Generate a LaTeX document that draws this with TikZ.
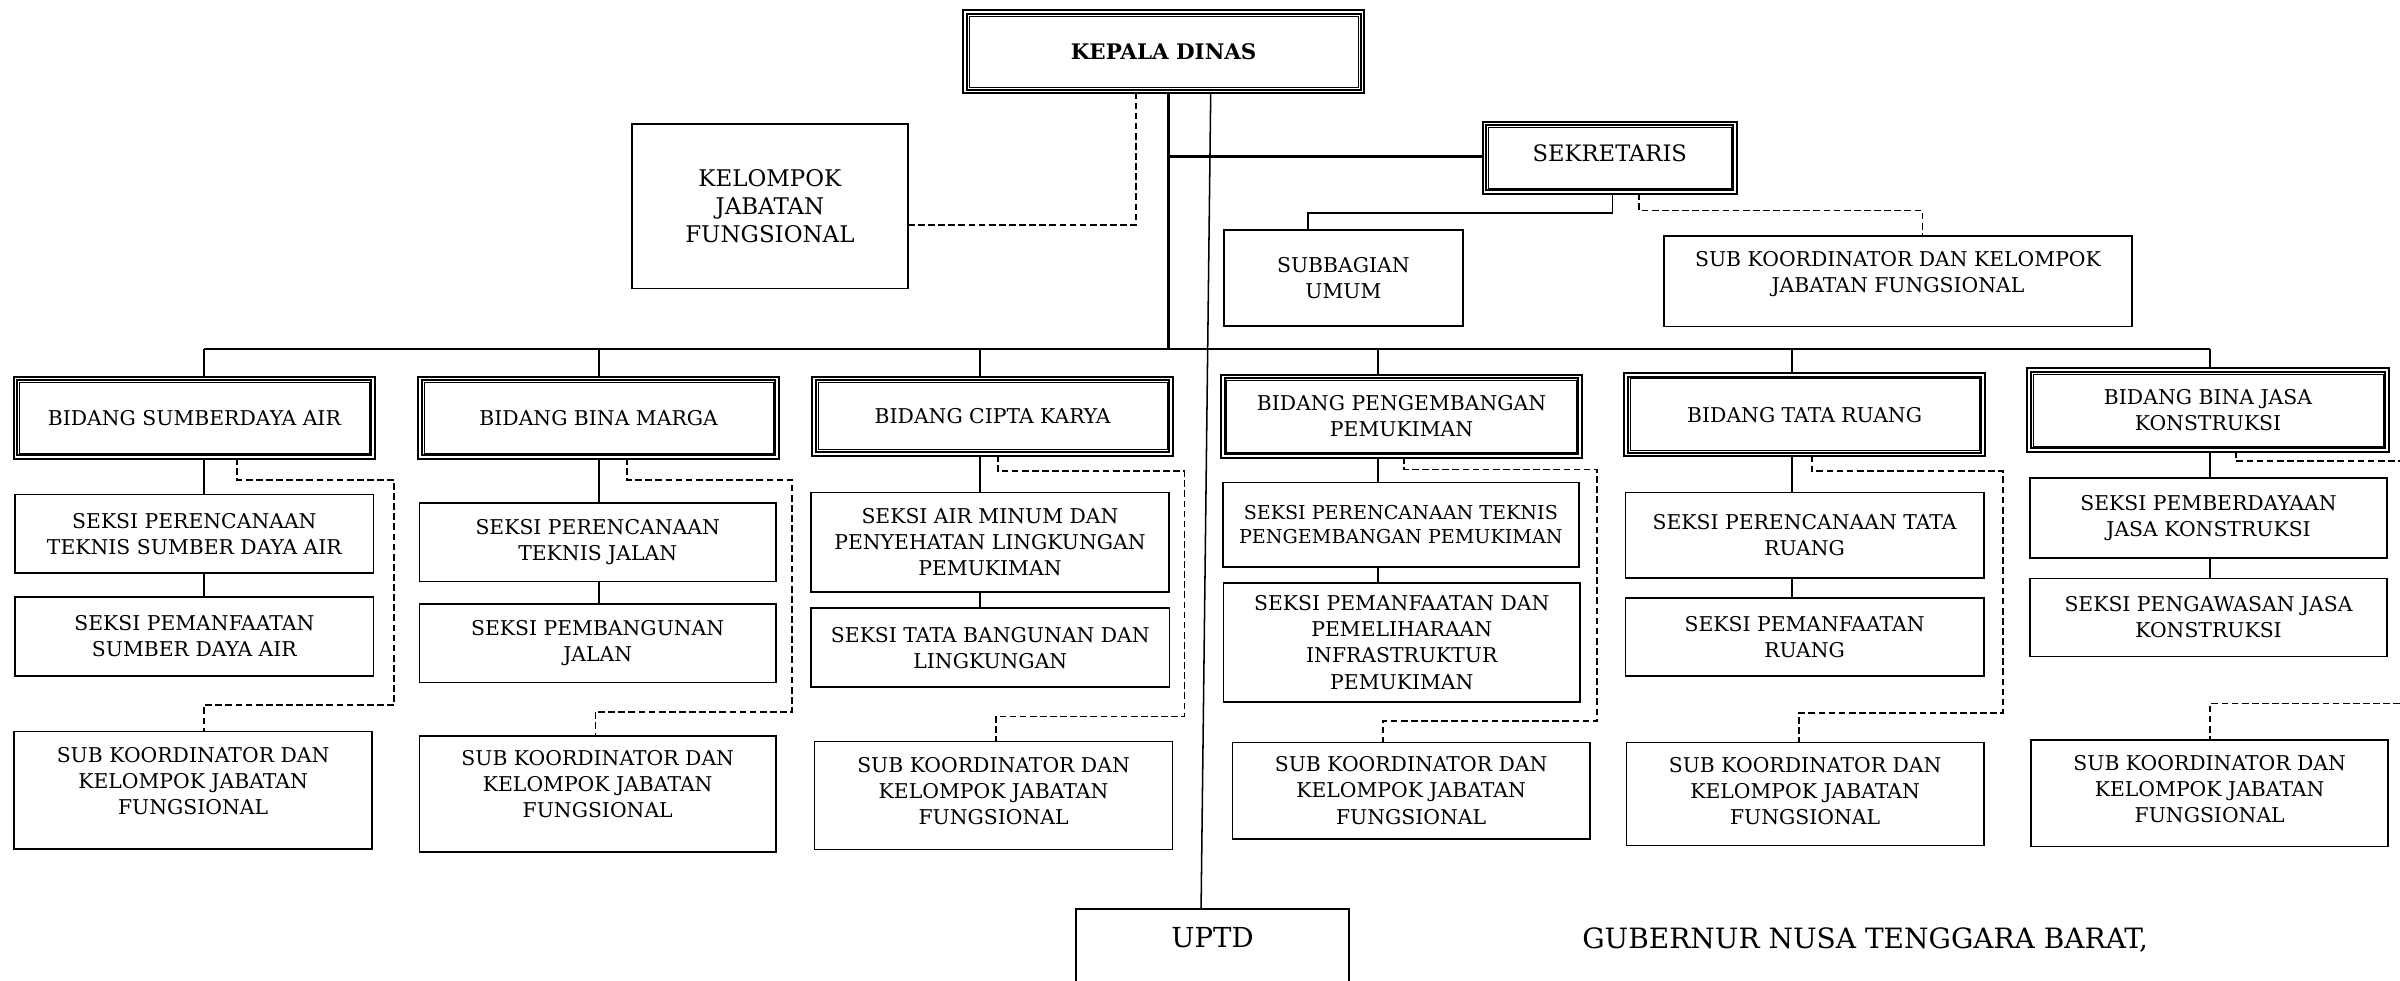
\documentclass[tikz,border=0pt]{standalone}
\usepackage{fontspec}
\setmainfont{DejaVu Serif}
\newcommand\fbase{\fontsize{13.3}{17}\selectfont}
\newcommand\fsm{\fontsize{12.5}{16}\selectfont}
\newcommand\fkd{\fontsize{14}{16}\selectfont\bfseries}
\newcommand\fkel{\fontsize{15}{18}\selectfont}
\newcommand\fsek{\fontsize{14.8}{17}\selectfont}
\newcommand\fup{\fontsize{18}{20}\selectfont}
\newcommand\fgub{\fontsize{18.3}{20}\selectfont}
\tikzset{
  bx/.style={draw, line width=1.1pt, align=center, inner sep=0pt, font=\fbase},
  dbx/.style={draw, double, double distance=1.1pt, line width=1.3pt, align=center, inner sep=0pt, font=\fbase},
  inl/.style={line width=0.5pt},
  ln/.style={line width=1.1pt},
  thk/.style={line width=1.8pt},
  thn/.style={line width=1pt},
  dsh/.style={line width=1.1pt, dash pattern=on 4.4pt off 2.2pt},
}
% #1 extra style, #2 name, #3 x1, #4 x2, #5 y1, #6 y2, #7 text
\newcommand\mkbox[7][]{\node[bx,#1, minimum width={(#4)-(#3)}, minimum height={(#6)-(#5)}] (#2) at ({((#3)+(#4))/2},{((#5)+(#6))/2}) {#7};}
\newcommand\mkdbox[7][]{%
  \node[dbx,#1, minimum width={(#4)-(#3)-3.7}, minimum height={(#6)-(#5)-3.7}] (#2) at ({((#3)+(#4))/2},{((#5)+(#6))/2}) {#7};
  \draw[inl] ({(#3)+4.5},{(#5)+4.5}) rectangle ({(#4)-4.5},{(#6)-4.5});}
% #1 idx, #2 ax, #3 ay, #4 cx, #5 cy, #6 ex
\newcommand\mkcol[6]{%
  \draw[ln] (k#1) -- (b#1.north -| k#1);
  \draw[ln] (b#1.south -| k#1) -- (s#1a.north -| k#1);
  \draw[ln] (s#1a.south -| k#1) -- (s#1b.north -| k#1);
  \coordinate (a#1) at (#2,#3);
  \coordinate (c#1) at (#4,#5);
  \coordinate (e#1) at (#6,#5);
  \draw[dsh] (b#1.south -| a#1) -- (a#1) -| (c#1) -- (e#1) -- (sk#1.north -| e#1);
}
\begin{document}
\begin{tikzpicture}[x=1pt,y=-1pt]
\useasboundingbox (0,0) rectangle (1568,640.9);
\fill[white] (0,0) rectangle (1568,640.9);

% top level
\mkdbox[font=\fkd]{kd}{628.5}{892}{6.1}{61.6}{KEPALA DINAS}
\mkbox[font=\fkel]{kel}{413}{593}{81}{188.4}{KELOMPOK\\JABATAN\\FUNGSIONAL}
\mkdbox[font=\fsek, text depth=6pt]{sek}{968}{1135.5}{78.8}{127.4}{SEKRETARIS}
\mkbox{sbu}{799.5}{955.8}{150.3}{213}{SUBBAGIAN\\UMUM}
\mkbox[text depth=12pt]{skt}{1087}{1393}{154.2}{213.4}{SUB KOORDINATOR DAN KELOMPOK\\JABATAN FUNGSIONAL}

% column 1
\mkdbox{b1}{8.3}{245.7}{245.5}{300.5}{BIDANG SUMBERDAYA AIR}
\mkbox{s1a}{10}{244}{323}{374.4}{SEKSI PERENCANAAN\\TEKNIS SUMBER DAYA AIR}
\mkbox{s1b}{10}{244}{390}{441.7}{SEKSI PEMANFAATAN\\SUMBER DAYA AIR}
\mkbox[text depth=12pt]{sk1}{9.3}{243}{478}{554.7}{SUB KOORDINATOR DAN\\KELOMPOK JABATAN\\FUNGSIONAL}
% column 2
\mkdbox{b2}{272.7}{509.5}{245.5}{300.5}{BIDANG BINA MARGA}
\mkbox{s2a}{274}{507}{328.8}{380}{SEKSI PERENCANAAN\\TEKNIS JALAN}
\mkbox{s2b}{274}{507}{394.7}{445.8}{SEKSI PEMBANGUNAN\\JALAN}
\mkbox[text depth=14pt]{sk2}{274}{507}{481}{556.8}{SUB KOORDINATOR DAN\\KELOMPOK JABATAN\\FUNGSIONAL}
% column 3
\mkdbox{b3}{530}{767}{245.5}{298.4}{BIDANG CIPTA KARYA}
\mkbox{s3a}{530}{763.6}{321.8}{386.6}{SEKSI AIR MINUM DAN\\PENYEHATAN LINGKUNGAN\\PEMUKIMAN}
\mkbox{s3b}{530}{764}{397.3}{448.9}{SEKSI TATA BANGUNAN DAN\\LINGKUNGAN}
\mkbox[text depth=6pt]{sk3}{532.2}{766}{484.5}{554.9}{SUB KOORDINATOR DAN\\KELOMPOK JABATAN\\FUNGSIONAL}
% column 4
\mkdbox{b4}{797}{1034.3}{244.2}{299.9}{BIDANG PENGEMBANGAN\\PEMUKIMAN}
\mkbox[font=\fsm]{s4a}{798.8}{1031.6}{315.2}{370.5}{SEKSI PERENCANAAN TEKNIS\\PENGEMBANGAN PEMUKIMAN}
\mkbox{s4b}{799.4}{1032.3}{381}{458.6}{SEKSI PEMANFAATAN DAN\\PEMELIHARAAN\\INFRASTRUKTUR\\PEMUKIMAN}
\mkbox{sk4}{805.2}{1038.6}{485}{548}{SUB KOORDINATOR DAN\\KELOMPOK JABATAN\\FUNGSIONAL}
% column 5
\mkdbox{b5}{1060.4}{1297.6}{243}{298.8}{BIDANG TATA RUANG}
\mkbox{s5a}{1062}{1296}{321.8}{377.6}{SEKSI PERENCANAAN TATA\\RUANG}
\mkbox{s5b}{1062}{1296}{390.7}{441.7}{SEKSI PEMANFAATAN\\RUANG}
\mkbox[text depth=4pt]{sk5}{1062.7}{1296}{485}{552.4}{SUB KOORDINATOR DAN\\KELOMPOK JABATAN\\FUNGSIONAL}
% column 6
\mkdbox{b6}{1323.7}{1561.4}{239.9}{296}{BIDANG BINA JASA\\KONSTRUKSI}
\mkbox{s6a}{1326.3}{1559.5}{312.3}{364.6}{SEKSI PEMBERDAYAAN\\JASA KONSTRUKSI}
\mkbox{s6b}{1326.3}{1559.5}{378}{428.9}{SEKSI PENGAWASAN JASA\\KONSTRUKSI}
\mkbox[text depth=6pt]{sk6}{1327}{1560.3}{483.3}{553}{SUB KOORDINATOR DAN\\KELOMPOK JABATAN\\FUNGSIONAL}

% UPTD and signature
\node[bx, font=\fup, anchor=north, minimum width=178.4, text height=13pt, text depth=60pt, inner ysep=12pt] (uptd) at (792.2,593.4) {UPTD};
\node[font=\fgub, anchor=west, inner sep=0pt] (gub) at (1033.6,614) {GUBERNUR NUSA TENGGARA BARAT,};

% connectors of the top level
\coordinate (dk) at (742,147);
\draw[dsh] (kd.south -| dk) -- (dk) -- (kel.east |- dk);
\coordinate (kv) at (763.5,228);
\coordinate (ks) at (763.5,102.4);
\draw[thk] (kd.south -| kv) -- (kv);
\draw[thk] (ks) -- (sek.west |- ks);
\coordinate (u1) at (791,0);
\coordinate (u2) at (784.7,0);
\draw[thn] (kd.south -| u1) -- (uptd.north -| u2);
\coordinate (t1) at (1053.5,139);
\coordinate (t2) at (854.6,139);
\draw[ln] (sek.south -| t1) -- (t1) -- (t2) -- (sbu.north -| t2);
\coordinate (t3) at (1070.8,137.6);
\coordinate (t4) at (1256,137.6);
\draw[dsh] (sek.south -| t3) -- (t3) -- (t4) -- (skt.north -| t4);

% bus
\coordinate (k1) at (133.5,228);
\coordinate (k2) at (391.5,228);
\coordinate (k3) at (640.3,228);
\coordinate (k4) at (900.3,228);
\coordinate (k5) at (1170.6,228);
\coordinate (k6) at (1443.9,228);
\draw[thk] (k1) -- (k6);

\mkcol{1}{155}{313.5}{257.5}{460.6}{133.5}
\mkcol{2}{409.5}{313.6}{517.5}{465}{389}
\mkcol{3}{651.8}{307.8}{773.8}{468}{650.7}
\mkcol{4}{917.3}{306.7}{1043.5}{471}{903.6}
\mkcol{5}{1183.7}{307.8}{1308.6}{465.8}{1175.4}

% column 6 (dashed line runs off the right edge)
\draw[ln] (k6) -- (b6.north -| k6);
\draw[ln] (b6.south -| k6) -- (s6a.north -| k6);
\draw[ln] (s6a.south -| k6) -- (s6b.north -| k6);
\coordinate (a6) at (1460.7,301);
\coordinate (c6) at (1568,301);
\draw[dsh] (b6.south -| a6) -- (a6) -- (c6);
\coordinate (f6) at (1568,459.7);
\coordinate (e6) at (1443.9,459.7);
\draw[dsh] (f6) -- (e6) -- (sk6.north -| e6);
\end{tikzpicture}
\end{document}
